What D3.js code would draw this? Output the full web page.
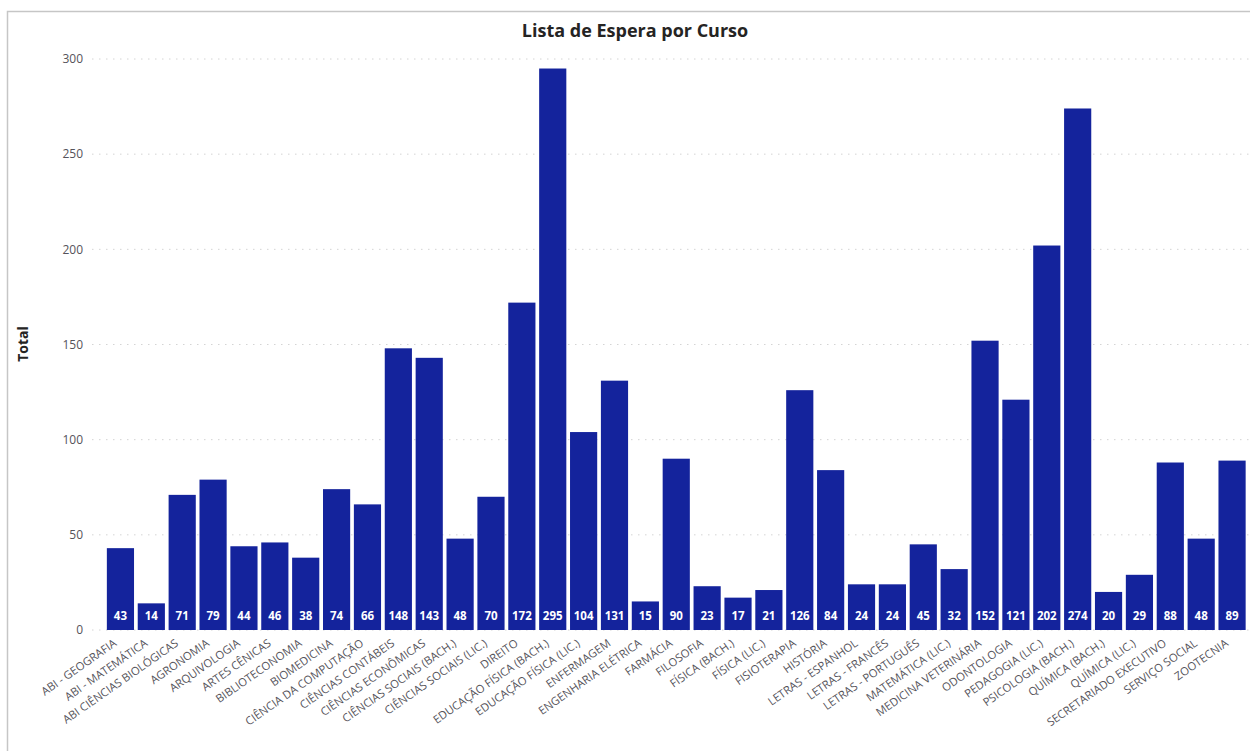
<!DOCTYPE html>
<html>
<head>
<meta charset="utf-8">
<script src="https://cdn.jsdelivr.net/npm/d3@7"></script>
<style>
  body { margin: 0; background: #fff; }
  text { font-family: "Open Sans", "Noto Sans", sans-serif; }
</style>
</head>
<body>
<div id="chart"></div>
<script>
// chart data
const cursos = [
  "ABI - GEOGRAFIA", "ABI - MATEMÁTICA", "ABI CIÊNCIAS BIOLÓGICAS", "AGRONOMIA",
  "ARQUIVOLOGIA", "ARTES CÊNICAS", "BIBLIOTECONOMIA", "BIOMEDICINA",
  "CIÊNCIA DA COMPUTAÇÃO", "CIÊNCIAS CONTÁBEIS", "CIÊNCIAS ECONÔMICAS",
  "CIÊNCIAS SOCIAIS (BACH.)", "CIÊNCIAS SOCIAIS (LIC.)", "DIREITO",
  "EDUCAÇÃO FÍSICA (BACH.)", "EDUCAÇÃO FÍSICA (LIC.)", "ENFERMAGEM",
  "ENGENHARIA ELÉTRICA", "FARMÁCIA", "FILOSOFIA", "FÍSICA (BACH.)", "FÍSICA (LIC.)",
  "FISIOTERAPIA", "HISTÓRIA", "LETRAS - ESPANHOL", "LETRAS - FRANCÊS",
  "LETRAS - PORTUGUÊS", "MATEMÁTICA (LIC.)", "MEDICINA VETERINÁRIA", "ODONTOLOGIA",
  "PEDAGOGIA (LIC.)", "PSICOLOGIA (BACH.)", "QUÍMICA (BACH.)", "QUÍMICA (LIC.)",
  "SECRETARIADO EXECUTIVO", "SERVIÇO SOCIAL", "ZOOTECNIA"
]
const totais = [43, 14, 71, 79, 44, 46, 38, 74, 66, 148, 143, 48, 70, 172, 295, 104, 131,
  15, 90, 23, 17, 21, 126, 84, 24, 24, 45, 32, 152, 121, 202, 274, 20, 29, 88, 48, 89]
const yTicks = [0, 50, 100, 150, 200, 250, 300]
const title = "Lista de Espera por Curso"
const yTitle = "Total"

const width = 1250
const height = 751
const barColor = "#14239c"
const textColor = "#55535a"

const svg = d3.select('#chart')
  .append('svg')
  .attr('width', width)
  .attr('height', height)

// visual border
svg.append('path')
  .attr('d', 'M7.5,' + height + 'V11.5H' + width)
  .attr('fill', 'none')
  .attr('stroke', '#c6c6c6')
  .attr('stroke-width', 1.5)

const xScale = d3.scaleBand()
  .domain(cursos)
  .range([105, 1247.5])
  .paddingInner(0.12)
  .paddingOuter(0.06)

const yScale = d3.scaleLinear()
  .domain([0, 300])
  .range([630, 59])

// gridlines + y tick labels
const yAxis = svg.append('g').attr('class', 'y-axis')
yAxis.selectAll('line')
  .data(yTicks)
  .enter()
  .append('line')
  .attr('x1', 92)
  .attr('x2', width)
  .attr('y1', d => yScale(d))
  .attr('y2', d => yScale(d))
  .attr('stroke', '#d4d4d4')
  .attr('stroke-width', 1)
  .attr('stroke-dasharray', '1.5,5.5')

yAxis.selectAll('text')
  .data(yTicks)
  .enter()
  .append('text')
  .attr('x', 83)
  .attr('y', d => yScale(d))
  .attr('dy', '0.35em')
  .attr('text-anchor', 'end')
  .attr('font-size', 12)
  .attr('fill', textColor)
  .text(d => d)

// bars
svg.selectAll('.bar')
  .data(cursos)
  .enter()
  .append('rect')
  .attr('class', 'bar')
  .attr('x', d => xScale(d))
  .attr('width', xScale.bandwidth())
  .attr('y', (d, i) => yScale(totais[i]))
  .attr('height', (d, i) => yScale(0) - yScale(totais[i]))
  .attr('fill', barColor)

// value labels inside bars
svg.selectAll('.val')
  .data(cursos)
  .enter()
  .append('text')
  .attr('class', 'val')
  .attr('x', d => xScale(d) + xScale.bandwidth() / 2)
  .attr('y', 620)
  .attr('text-anchor', 'middle')
  .attr('font-size', 11.5)
  .attr('font-weight', 'bold')
  .attr('fill', '#fff')
  .text((d, i) => totais[i])

// x labels, rotated
svg.selectAll('.xlab')
  .data(cursos)
  .enter()
  .append('text')
  .attr('class', 'xlab')
  .attr('transform', d => 'translate(' + (xScale(d) + xScale.bandwidth() / 2 - 3) + ',645) rotate(-35)')
  .attr('text-anchor', 'end')
  .attr('font-size', 11.3)
  .attr('fill', textColor)
  .text(d => d)

// title
svg.append('text')
  .attr('x', 635)
  .attr('y', 37)
  .attr('text-anchor', 'middle')
  .attr('font-size', 18)
  .attr('font-weight', 'bold')
  .attr('fill', '#252423')
  .text(title)

// y axis title
svg.append('text')
  .attr('transform', 'translate(28,344) rotate(-90)')
  .attr('text-anchor', 'middle')
  .attr('font-size', 14)
  .attr('font-weight', 'bold')
  .attr('fill', '#252423')
  .text(yTitle)
</script>
</body>
</html>
